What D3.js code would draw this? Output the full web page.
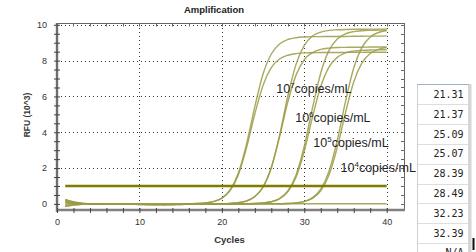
<!DOCTYPE html>
<html>
<head>
<meta charset="utf-8">
<script src="https://cdn.jsdelivr.net/npm/d3@7/dist/d3.min.js"></script>
<style>
  body { margin: 0; background: #fff; }
  svg { display: block; font-family: "Liberation Sans", Arial, sans-serif; }
</style>
</head>
<body>
<svg id="chart" width="476" height="252"></svg>
<script>
// cycle numbers 1..40
const cycles = d3.range(1, 41)

// RFU (x1000), one array per well
const rfu7a = [0.22, 0.10, 0.03, 0.00, -0.01, -0.01, -0.02, -0.02, -0.02, -0.03, -0.03, -0.03, -0.02, -0.02, -0.01,
    0.01, 0.02, 0.05, 0.14, 0.33, 0.78, 1.72, 3.35, 5.43, 7.25, 8.37, 8.93, 9.18, 9.28, 9.32, 9.34, 9.34, 9.35, 9.35, 9.35, 9.36, 9.36, 9.37, 9.37, 9.38]
const rfu7b = [0.15, 0.06, 0.01, 0.00, 0.00, -0.01, -0.01, -0.02, -0.02, -0.02, -0.03, -0.03, -0.02, -0.02, -0.01,
    0.01, 0.02, 0.05, 0.13, 0.31, 0.74, 1.62, 3.14, 5.02, 6.63, 7.61, 8.09, 8.30, 8.39, 8.43, 8.44, 8.45, 8.45, 8.45, 8.46, 8.46, 8.46, 8.47, 8.47, 8.47]
const rfu6a = [-0.12, -0.06, -0.02, 0.00, 0.00, -0.01, -0.01, -0.02, -0.02, -0.03, -0.03, -0.03, -0.03, -0.02, -0.02, -0.02, -0.01, -0.01, 0.00,
    0.01, 0.03, 0.07, 0.16, 0.40, 0.93, 2.02, 3.83, 6.01, 7.79, 8.85, 9.37, 9.59, 9.69, 9.72, 9.74, 9.75, 9.75, 9.76, 9.76, 9.77]
const rfu6b = [0.08, 0.04, 0.01, 0.00, 0.00, -0.01, -0.01, -0.01, -0.02, -0.02, -0.02, -0.03, -0.03, -0.02, -0.02, -0.02, -0.01, -0.01, 0.00,
    0.01, 0.03, 0.07, 0.17, 0.41, 0.95, 2.03, 3.74, 5.69, 7.19, 8.05, 8.45, 8.63, 8.70, 8.73, 8.74, 8.75, 8.75, 8.76, 8.76, 8.77]
const rfu5a = [0.25, 0.12, 0.04, 0.01, 0.00, -0.01, -0.01, -0.02, -0.02, -0.02, -0.03, -0.03, -0.03, -0.03, -0.02, -0.02, -0.02, -0.02, -0.01, -0.01, -0.01, 0.00,
    0.01, 0.02, 0.05, 0.12, 0.30, 0.72, 1.62, 3.22, 5.36, 7.31, 8.57, 9.21, 9.50, 9.62, 9.67, 9.69, 9.70, 9.71]
const rfu5b = [-0.05, -0.02, 0.00, 0.00, 0.00, -0.01, -0.01, -0.01, -0.02, -0.02, -0.02, -0.02, -0.03, -0.03, -0.02, -0.02, -0.02, -0.01, -0.01, -0.01, 0.00, 0.00,
    0.01, 0.02, 0.05, 0.12, 0.28, 0.67, 1.49, 2.94, 4.85, 6.55, 7.64, 8.18, 8.43, 8.53, 8.57, 8.59, 8.60, 8.61]
const rfu4a = [0.18, 0.08, 0.02, 0.00, 0.00, -0.01, -0.01, -0.02, -0.02, -0.02, -0.02, -0.03, -0.03, -0.03, -0.03, -0.02, -0.02, -0.02, -0.02, -0.01, -0.01, -0.01, -0.01, 0.00, 0.00, 0.00,
    0.01, 0.02, 0.06, 0.14, 0.35, 0.82, 1.82, 3.54, 5.71, 7.59, 8.74, 9.32, 9.57, 9.68]
const rfu4b = [-0.15, -0.07, -0.02, 0.00, 0.00, -0.01, -0.01, -0.01, -0.02, -0.02, -0.02, -0.02, -0.03, -0.03, -0.03, -0.02, -0.02, -0.02, -0.02, -0.01, -0.01, -0.01, 0.00, 0.00, 0.00, 0.00,
    0.01, 0.02, 0.05, 0.13, 0.31, 0.73, 1.61, 3.14, 5.09, 6.81, 7.87, 8.40, 8.63, 8.73]
const rfuNtc = [0.05, 0.02, 0.01, 0.00, 0.00, 0.00, -0.01, -0.01, -0.01, -0.01, -0.02, -0.02, -0.02, -0.02, -0.02, -0.02, -0.01, -0.01, -0.01, -0.01,
    0.00, 0.00, 0.00, 0.00, 0.00, 0.01, 0.01, 0.01, 0.01, 0.01, 0.01, 0.01, 0.01, 0.01, 0.01, 0.01, 0.01, 0.01, 0.01, 0.01]

const thresholdRfu = 1.0
const thresholdCycles = [1, 40]

const xTicks = [0, 10, 20, 30, 40]
const yTicks = [0, 2, 4, 6, 8, 10]

const concentrations = ["7", "6", "5", "4"]
const cqValues = ["21.31", "21.37", "25.09", "25.07", "28.39", "28.49", "32.23", "32.39", "N/A"]

// where each concentration label sits (cycle, RFU)
const labelAnchors = [[26.6, 6.18], [28.9, 4.59], [31.1, 3.16], [34.4, 1.80]]

const svg = d3.select("#chart")

const x = d3.scaleLinear().domain([0, 42.1]).range([57, 404])
const y = d3.scaleLinear().domain([-0.34, 10.1]).range([210, 23])

// dotted grid
svg.append("g")
    .selectAll("line")
    .data(yTicks.filter(d => d > 0))
    .join("line")
    .attr("x1", 57).attr("x2", 404)
    .attr("y1", d => Math.round(y(d)) + 0.5)
    .attr("y2", d => Math.round(y(d)) + 0.5)
    .attr("stroke", "#333").attr("stroke-dasharray", "1,3")

svg.append("g")
    .selectAll("line")
    .data(xTicks.filter(d => d > 0))
    .join("line")
    .attr("x1", d => Math.round(x(d)) + 0.5).attr("x2", d => Math.round(x(d)) + 0.5)
    .attr("y1", 24).attr("y2", 210)
    .attr("stroke", "#333").attr("stroke-dasharray", "1,3")

// top / right frame with small inward ticks
svg.append("line").attr("x1", 57).attr("x2", 405).attr("y1", 23.5).attr("y2", 23.5).attr("stroke", "#666")
svg.append("line").attr("x1", 404.5).attr("x2", 404.5).attr("y1", 23).attr("y2", 211).attr("stroke", "#666")

svg.append("g")
    .selectAll("line")
    .data(d3.range(0, 42, 2))
    .join("line")
    .attr("x1", d => Math.round(x(d)) + 0.5).attr("x2", d => Math.round(x(d)) + 0.5)
    .attr("y1", 23.5).attr("y2", 26.5)
    .attr("stroke", "#666")

svg.append("g")
    .selectAll("line")
    .data(d3.range(0, 10.01, 0.5))
    .join("line")
    .attr("x1", 401).attr("x2", 404.5)
    .attr("y1", d => Math.round(y(d)) + 0.5).attr("y2", d => Math.round(y(d)) + 0.5)
    .attr("stroke", "#666")

// curves
const line = d3.line()
    .x((d, i) => x(cycles[i]))
    .y(d => y(d))
    .curve(d3.curveMonotoneX)

const wells = [rfuNtc, rfu4b, rfu4a, rfu5b, rfu5a, rfu6b, rfu6a, rfu7b, rfu7a]

svg.append("g")
    .selectAll("path")
    .data(wells)
    .join("path")
    .attr("d", line)
    .attr("fill", "none")
    .attr("stroke", "#9a9a44")
    .attr("stroke-opacity", 0.85)
    .attr("stroke-width", 1.4)

// threshold
svg.append("line")
    .attr("x1", x(thresholdCycles[0])).attr("x2", x(thresholdCycles[1]))
    .attr("y1", y(thresholdRfu)).attr("y2", y(thresholdRfu))
    .attr("stroke", "#7d7d00")
    .attr("stroke-width", 2.4)

// axes
const yAxis = svg.append("g")
    .attr("transform", "translate(57,0)")
    .call(d3.axisLeft(y)
        .tickValues(d3.range(0, 10.01, 0.5))
        .tickSize(3)
        .tickSizeOuter(0)
        .tickPadding(7)
        .tickFormat(d => yTicks.includes(d) ? d : ""))
yAxis.select(".domain").attr("stroke", "#6e6e6e").attr("stroke-width", 2.4)
    .attr("d", "M0," + 212 + "V" + 23)
yAxis.selectAll(".tick line").attr("x1", 3).attr("stroke", "#444")
yAxis.selectAll(".tick text").attr("font-size", 9).attr("fill", "#333")
    .attr("font-family", "Liberation Sans, Arial, sans-serif")

const xAxis = svg.append("g")
    .attr("transform", "translate(0,210)")
    .call(d3.axisBottom(x)
        .tickValues(d3.range(0, 41, 2))
        .tickSize(3)
        .tickSizeOuter(0)
        .tickPadding(5.5)
        .tickFormat(d => xTicks.includes(d) ? d : ""))
xAxis.select(".domain").attr("stroke", "#808080").attr("stroke-width", 2.6)
    .attr("d", "M56,0H405")
xAxis.selectAll(".tick line").attr("y1", -2).attr("stroke", "#444")
xAxis.selectAll(".tick text").attr("font-size", 9).attr("fill", "#333")
    .attr("font-family", "Liberation Sans, Arial, sans-serif")

// titles
svg.append("text")
    .attr("x", 214).attr("y", 12.5)
    .attr("text-anchor", "middle")
    .attr("font-size", 9.5).attr("font-weight", "bold").attr("fill", "#222")
    .text("Amplification")

svg.append("text")
    .attr("x", 229.5).attr("y", 243)
    .attr("text-anchor", "middle")
    .attr("font-size", 9.5).attr("font-weight", "bold").attr("fill", "#333")
    .text("Cycles")

svg.append("text")
    .attr("transform", "translate(29.5,115) rotate(-90)")
    .attr("text-anchor", "middle")
    .attr("font-size", 8.5).attr("font-weight", "bold").attr("fill", "#333")
    .text("RFU (10^3)")

// concentration labels
const labels = svg.append("g")
    .selectAll("text")
    .data(concentrations)
    .join("text")
    .attr("x", (d, i) => x(labelAnchors[i][0]))
    .attr("y", (d, i) => y(labelAnchors[i][1]))
    .attr("font-size", 12.5)
    .attr("fill", "#1e1e28")

labels.append("tspan").text("10")
labels.append("tspan").text(d => d).attr("font-size", 8).attr("dy", -5)
labels.append("tspan").text("copies/mL").attr("dy", 5)

// Cq table on the right
const rowTop = 84.5, rowH = 19.8

svg.append("rect").attr("x", 468).attr("y", 84).attr("width", 3.5).attr("height", 168).attr("fill", "#d6d6d6")
svg.append("line").attr("x1", 417.5).attr("x2", 417.5).attr("y1", 84).attr("y2", 252).attr("stroke", "#cfcfcf")
svg.append("line").attr("x1", 417).attr("x2", 469).attr("y1", rowTop).attr("y2", rowTop).attr("stroke", "#9fb3c8")
svg.append("rect").attr("x", 472.5).attr("y", 238).attr("width", 2).attr("height", 12).attr("fill", "#111")

svg.append("g")
    .selectAll("line")
    .data(cqValues.slice(0, -1))
    .join("line")
    .attr("x1", 418).attr("x2", 468)
    .attr("y1", (d, i) => Math.round(rowTop + (i + 1) * rowH) + 0.5)
    .attr("y2", (d, i) => Math.round(rowTop + (i + 1) * rowH) + 0.5)
    .attr("stroke", "#dedede")

svg.append("g")
    .selectAll("text")
    .data(cqValues)
    .join("text")
    .attr("x", 463.5)
    .attr("y", (d, i) => rowTop + i * rowH + 13.5)
    .attr("text-anchor", "end")
    .attr("font-family", "DejaVu Sans Mono, monospace")
    .attr("font-size", 10)
    .attr("fill", "#222")
    .text(d => d)
</script>
</body>
</html>
